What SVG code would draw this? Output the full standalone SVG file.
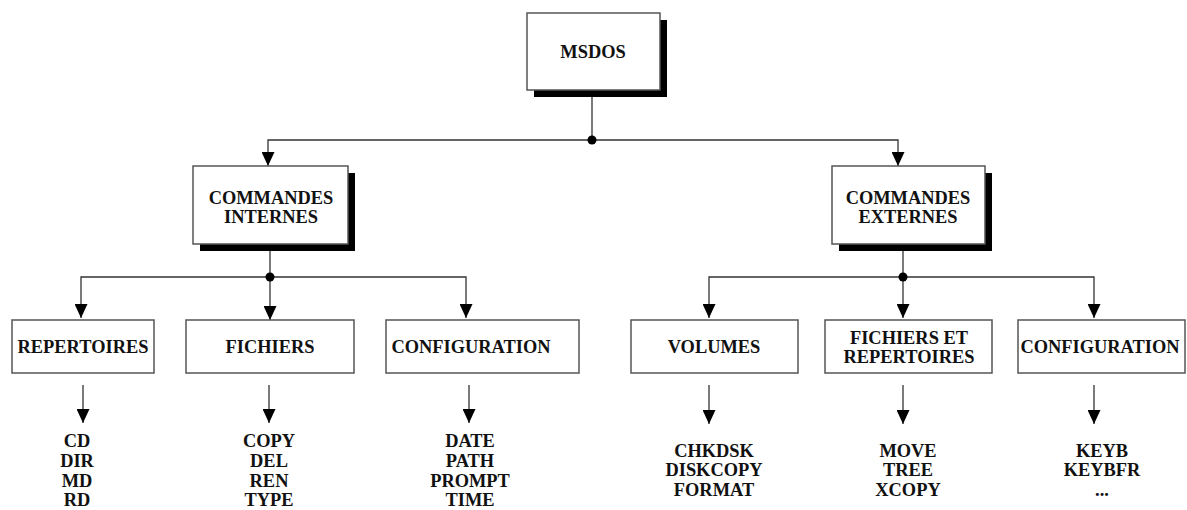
<svg xmlns="http://www.w3.org/2000/svg" width="1187" height="510" viewBox="0 0 1187 510">
<style>
.box{fill:#fff;stroke:#555;stroke-width:1.5}
.sh{fill:#000}
.t{font-family:"Liberation Serif","Times New Roman",serif;font-weight:bold;font-size:18.4px;fill:#111;text-anchor:middle}
.c{fill:none;stroke:#333;stroke-width:1.3}
.ar{fill:none;stroke:#333;stroke-width:1.3;marker-end:url(#ah)}
</style>
<defs>
<marker id="ah" viewBox="0 0 14 13" refX="14" refY="6.5" markerWidth="14" markerHeight="13" markerUnits="userSpaceOnUse" orient="auto">
<path d="M0,0 L14,6.5 L0,13 z" fill="#000"/>
</marker>
</defs>
<g id="connectors">
<line class="c" x1="592" y1="97" x2="592" y2="140"/>
<path class="ar" d="M592,140 H268 V166"/>
<path class="ar" d="M592,140 H898 V166"/>
<circle cx="592" cy="140" r="4.5" fill="#000"/>
<line class="c" x1="270" y1="251" x2="270" y2="277"/>
<path class="ar" d="M270,277 H81 V318"/>
<path class="ar" d="M270,277 V320"/>
<path class="ar" d="M270,277 H466 V318"/>
<circle cx="270" cy="277" r="4.5" fill="#000"/>
<line class="c" x1="903" y1="251" x2="903" y2="277"/>
<path class="ar" d="M903,277 H709 V318"/>
<path class="ar" d="M903,277 V318"/>
<path class="ar" d="M903,277 H1094 V318"/>
<circle cx="903" cy="277" r="4.5" fill="#000"/>
<path class="ar" d="M83,385 V423"/>
<path class="ar" d="M269,385 V423"/>
<path class="ar" d="M469,385 V423"/>
<path class="ar" d="M709,385 V424"/>
<path class="ar" d="M903,385 V424"/>
<path class="ar" d="M1094,385 V424"/>
</g>
<g id="msdos">
<rect class="sh" x="534" y="20" width="133" height="77"/>
<rect class="box" x="527" y="13" width="133" height="77"/>
<text class="t" x="593" y="58">MSDOS</text>
</g>
<g id="internes">
<rect class="sh" x="200" y="173" width="155" height="78"/>
<rect class="box" x="193" y="166" width="155" height="78"/>
<text class="t" x="271" y="204">COMMANDES</text>
<text class="t" x="271" y="223">INTERNES</text>
</g>
<g id="externes">
<rect class="sh" x="839" y="173" width="153" height="78"/>
<rect class="box" x="832" y="166" width="153" height="78"/>
<text class="t" x="908" y="204">COMMANDES</text>
<text class="t" x="908" y="223">EXTERNES</text>
</g>
<g id="repertoires">
<rect class="box" x="12" y="320" width="142" height="53"/>
<text class="t" x="83" y="353">REPERTOIRES</text>
</g>
<g id="fichiers">
<rect class="box" x="186" y="320" width="168" height="53"/>
<text class="t" x="270" y="353">FICHIERS</text>
</g>
<g id="configuration1">
<rect class="box" x="386" y="320" width="193" height="53"/>
<text class="t" x="471" y="353">CONFIGURATION</text>
</g>
<g id="volumes">
<rect class="box" x="631" y="320" width="167" height="53"/>
<text class="t" x="714" y="353">VOLUMES</text>
</g>
<g id="fichiers-repertoires">
<rect class="box" x="825" y="320" width="167" height="53"/>
<text class="t" x="909" y="344">FICHIERS ET</text>
<text class="t" x="909" y="363">REPERTOIRES</text>
</g>
<g id="configuration2">
<rect class="box" x="1018" y="320" width="167" height="53"/>
<text class="t" x="1100" y="353">CONFIGURATION</text>
</g>
<g id="leaves-repertoires">
<text class="t" x="77" y="447">CD</text>
<text class="t" x="77" y="467">DIR</text>
<text class="t" x="77" y="487">MD</text>
<text class="t" x="77" y="506">RD</text>
</g>
<g id="leaves-fichiers">
<text class="t" x="269" y="447">COPY</text>
<text class="t" x="269" y="467">DEL</text>
<text class="t" x="269" y="487">REN</text>
<text class="t" x="269" y="506">TYPE</text>
</g>
<g id="leaves-configuration1">
<text class="t" x="470" y="447">DATE</text>
<text class="t" x="470" y="467">PATH</text>
<text class="t" x="470" y="487">PROMPT</text>
<text class="t" x="470" y="506">TIME</text>
</g>
<g id="leaves-volumes">
<text class="t" x="714" y="457">CHKDSK</text>
<text class="t" x="714" y="476">DISKCOPY</text>
<text class="t" x="714" y="496">FORMAT</text>
</g>
<g id="leaves-fichiers-repertoires">
<text class="t" x="908" y="457">MOVE</text>
<text class="t" x="908" y="476">TREE</text>
<text class="t" x="908" y="496">XCOPY</text>
</g>
<g id="leaves-configuration2">
<text class="t" x="1102" y="457">KEYB</text>
<text class="t" x="1102" y="476">KEYBFR</text>
<text class="t" x="1102" y="496">...</text>
</g>
</svg>
